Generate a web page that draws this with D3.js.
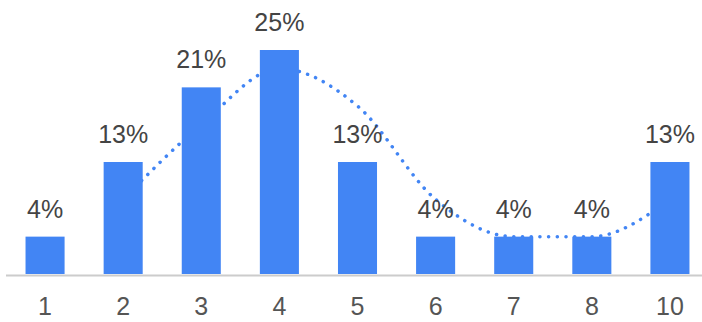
<!DOCTYPE html>
<html>
<head>
<meta charset="utf-8">
<script src="https://d3js.org/d3.v7.min.js"></script>
<style>
  body { margin: 0; background: #fff; }
  text { font-family: Arial, "Liberation Sans", sans-serif; }
</style>
</head>
<body>
<div id="chart"></div>
<script>
  // data
  const categories = ["1", "2", "3", "4", "5", "6", "7", "8", "10"];
  const shares = [4.17, 12.5, 20.83, 25, 12.5, 4.17, 4.17, 4.17, 12.5];      // percent
  const trend = [null, 8.33, 16.67, 22.92, 18.75, 8.33, 4.17, 4.17, 8.33];   // moving average, percent

  const width = 702, height = 322;
  const blue = "#4285f4";

  const svg = d3.select("#chart").append("svg")
    .attr("width", width)
    .attr("height", height);

  const x = d3.scaleBand()
    .domain(categories)
    .range([6, 709])
    .paddingInner(0.5)
    .paddingOuter(0.25);

  const y = d3.scaleLinear()
    .domain([0, 25])
    .range([274, 50]);

  // trend line (behind the bars)
  const line = d3.line()
    .defined(d => d[1] != null)
    .x(d => x(d[0]) + x.bandwidth() / 2)
    .y(d => y(d[1]))
    .curve(d3.curveMonotoneX);

  svg.append("path")
    .datum(categories.map((c, i) => [c, trend[i]]))
    .attr("d", line)
    .attr("fill", "none")
    .attr("stroke", blue)
    .attr("stroke-width", 3.5)
    .attr("stroke-linecap", "round")
    .attr("stroke-dasharray", "0.1 8.6");

  // bars
  svg.selectAll("rect.bar")
    .data(shares)
    .enter().append("rect")
    .attr("class", "bar")
    .attr("x", (d, i) => x(categories[i]))
    .attr("y", d => y(d))
    .attr("width", x.bandwidth())
    .attr("height", d => y(0) - y(d))
    .attr("fill", blue);

  // value labels
  const fmt = d => Math.round(d) + "%";
  svg.selectAll("text.val")
    .data(shares)
    .enter().append("text")
    .attr("class", "val")
    .attr("x", (d, i) => x(categories[i]) + x.bandwidth() / 2)
    .attr("y", d => y(d) - 19)
    .attr("text-anchor", "middle")
    .attr("fill", "#444")
    .style("font-size", "25px")
    .text(fmt);

  // x axis
  const xAxis = svg.append("g")
    .attr("transform", `translate(0,${y(0) + 1.5})`)
    .call(d3.axisBottom(x).tickSize(0).tickPadding(22));
  xAxis.select(".domain")
    .attr("d", `M6,0H${width}`)
    .attr("stroke", "#ccc")
    .attr("stroke-width", 2);
  xAxis.selectAll(".tick text")
    .attr("fill", "#555")
    .style("font-size", "25px")
    .style("font-family", "Arial, 'Liberation Sans', sans-serif");
</script>
</body>
</html>
